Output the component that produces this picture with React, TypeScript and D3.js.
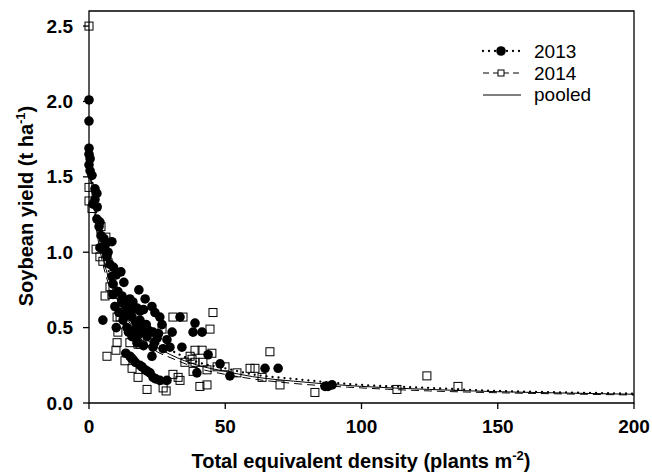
import React from 'react';
import * as d3 from 'd3';

// 2013 observations (total equivalent density, soybean yield)
const density2013 = [
  0, 0, 0, 0, 0.4, 0, 0.4, 1.1, 2.2, 2.9, 2.2, 1.5, 2.9, 3.7, 4.4, 5.5, 8.4, 5.9, 6.6, 7.7,
  11.7, 8.4, 12.8, 8.8, 10.6, 18.3, 8.8, 12.1, 15.0, 16.1, 9.5, 23.1, 17.6, 18.7, 24.2, 5.1,
  12.5, 15.8, 18.7, 26.8, 33.4, 13.9, 16.9, 19.8, 23.5, 30.5, 38.9, 38.2, 41.5, 15.8, 21.3,
  25.0, 28.6, 17.6, 23.5, 29.7, 34.1, 27.2, 43.7, 23.1, 15.0, 16.1, 48.1, 18.7, 20.6, 39.6,
  22.4, 23.5, 28.6, 51.7, 64.6, 69.4, 86.6, 87.7, 89.2, 13.2, 20.6, 26.0, 4.0,
  14.0, 15.5, 17.0, 13.0, 19.5, 21.0, 22.0, 14.5, 11.0, 12.0, 16.0, 20.0, 18.0, 24.0, 25.5,
  20.0, 10.0, 17.0, 19.5, 21.5, 13.5, 15.5, 24.5, 26.0, 3.0, 4.0, 6.0, 7.0, 9.0, 10.0,
];
const yield2013 = [
  2.01, 1.87, 1.69, 1.65, 1.62, 1.58, 1.54, 1.51, 1.42, 1.39, 1.35, 1.32, 1.22, 1.17, 1.11, 1.09, 1.07, 1.01, 0.97, 0.92,
  0.87, 0.84, 0.80, 0.79, 0.74, 0.75, 0.72, 0.71, 0.69, 0.67, 0.64, 0.64, 0.63, 0.61, 0.60, 0.55,
  0.55, 0.57, 0.55, 0.52, 0.57, 0.50, 0.49, 0.47, 0.47, 0.47, 0.53, 0.47, 0.47, 0.44, 0.44,
  0.43, 0.42, 0.40, 0.37, 0.37, 0.37, 0.36, 0.32, 0.31, 0.31, 0.29, 0.26, 0.25, 0.22, 0.20,
  0.20, 0.17, 0.15, 0.18, 0.23, 0.23, 0.11, 0.11, 0.12, 0.65, 0.69, 0.57, 1.03,
  0.62, 0.58, 0.54, 0.58, 0.50, 0.52, 0.48, 0.47, 0.60, 0.68, 0.62, 0.62, 0.45, 0.40, 0.46,
  0.38, 0.50, 0.27, 0.24, 0.21, 0.33, 0.30, 0.16, 0.15, 1.30, 1.20, 1.05, 1.00, 0.90, 0.85,
];

// 2014 observations
const density2014 = [
  0, 0, 0, 1.1, 4.4, 6.2, 2.6, 4.0, 5.1, 7.0, 7.7, 8.8, 5.9, 12.1, 10.3, 11.4, 10.6, 10.3, 9.9,
  6.6, 13.2, 15.8, 18.0, 21.3, 27.2, 28.3, 30.8, 34.5, 45.5, 44.4, 22.4, 18.7, 15.0, 26.8, 30.8,
  32.7, 38.2, 40.7, 43.3, 37.8, 38.9, 41.5, 37.1, 38.9, 43.3, 45.1, 47.0, 49.9, 35.2, 33.4, 41.8,
  54.3, 59.1, 60.9, 63.5, 66.4, 70.1, 82.9, 113.0, 124.0, 135.4, 12.5, 8.4, 18.0,
];
const yield2014 = [
  2.5, 1.43, 1.34, 1.29, 1.17, 1.10, 1.02, 0.97, 0.94, 0.93, 0.77, 0.77, 0.71, 0.67, 0.57, 0.57, 0.47, 0.40, 0.35,
  0.31, 0.28, 0.23, 0.17, 0.09, 0.10, 0.08, 0.57, 0.57, 0.60, 0.49, 0.40, 0.39, 0.40, 0.49, 0.19,
  0.17, 0.21, 0.11, 0.12, 0.29, 0.35, 0.35, 0.31, 0.27, 0.22, 0.33, 0.24, 0.24, 0.27, 0.15, 0.27,
  0.20, 0.23, 0.23, 0.17, 0.34, 0.12, 0.07, 0.09, 0.18, 0.11, 0.64, 0.72, 0.39,
];

// fitted curves
const fitDensity = [0, 1, 2, 3, 5, 7.5, 10, 15, 20, 25, 30, 40, 50, 60, 75, 100, 125, 150, 175, 200];
const fit2013 = [1.7, 1.5, 1.35, 1.22, 1.03, 0.86, 0.74, 0.57, 0.47, 0.4, 0.35, 0.27, 0.23, 0.19, 0.16, 0.12, 0.1, 0.08, 0.07, 0.062];
const fit2014 = [1.6, 1.4, 1.25, 1.12, 0.93, 0.77, 0.65, 0.5, 0.41, 0.34, 0.3, 0.23, 0.19, 0.16, 0.13, 0.1, 0.08, 0.068, 0.06, 0.053];
const fitPooled = [1.65, 1.45, 1.3, 1.17, 0.98, 0.81, 0.7, 0.53, 0.44, 0.37, 0.32, 0.25, 0.21, 0.175, 0.145, 0.11, 0.09, 0.075, 0.066, 0.058];

const xTicks = [0, 50, 100, 150, 200];
const yTicks = [0, 0.5, 1.0, 1.5, 2.0, 2.5];

const W = 652;
const H = 472;
const font = '"Liberation Sans", Arial, sans-serif';

export default function App() {
  const x = d3.scaleLinear().domain([0, 200]).range([89, 634]);
  const y = d3.scaleLinear().domain([0, 2.6]).range([403, 11]);
  const [x0, x1] = x.range();
  const [y0, y1] = y.range();

  const line = (ys: number[]) =>
    d3
      .line<number>()
      .x((_, i) => x(fitDensity[i]))
      .y(d => y(d))
      .curve(d3.curveMonotoneX)(ys) || '';

  return (
    <svg width={W} height={H} style={{ position: 'absolute', left: 0, top: 0 }} fontFamily={font}>
      <rect width={W} height={H} fill="white" />

      {/* frame */}
      <path d={`M${x0},${y0}V${y1}H${x1}V${y0}Z`} fill="none" stroke="black" strokeWidth={1.3} />

      {/* fitted curves */}
      <path d={line(fitPooled)} fill="none" stroke="black" strokeWidth={1} />
      <path d={line(fit2014)} fill="none" stroke="black" strokeWidth={1} strokeDasharray="8 5" />
      <path d={line(fit2013)} fill="none" stroke="black" strokeWidth={2.3} strokeDasharray="0 6" strokeLinecap="round" />

      {/* points */}
      {density2013.map((d, i) => (
        <circle key={'a' + i} cx={x(d)} cy={y(yield2013[i])} r={4.8} fill="black" />
      ))}
      {density2014.map((d, i) => (
        <rect
          key={'b' + i}
          x={x(d) - 4}
          y={y(yield2014[i]) - 4}
          width={8}
          height={8}
          fill="none"
          stroke="black"
          strokeWidth={1}
        />
      ))}

      {/* x axis */}
      {xTicks.map(t => (
        <g key={'x' + t}>
          <line x1={x(t)} x2={x(t)} y1={y0} y2={y0 + 6} stroke="black" strokeWidth={1.3} />
          <text x={x(t)} y={433} textAnchor="middle" fontSize={19} fontWeight="bold" fill="black">
            {t}
          </text>
        </g>
      ))}
      {/* y axis */}
      {yTicks.map(t => (
        <g key={'y' + t}>
          <line x1={x0 - 6} x2={x0} y1={y(t)} y2={y(t)} stroke="black" strokeWidth={1.3} />
          <text x={73} y={y(t) + 6.5} textAnchor="end" fontSize={19} fontWeight="bold" fill="black">
            {t.toFixed(1)}
          </text>
        </g>
      ))}

      <text x={361} y={468} textAnchor="middle" fontSize={20} fontWeight="bold" fill="black">
        Total equivalent density (plants m
        <tspan fontSize={13} dy={-8}>-2</tspan>
        <tspan dy={8}>)</tspan>
      </text>
      <text
        transform={`translate(33,206) rotate(-90)`}
        textAnchor="middle"
        fontSize={20}
        fontWeight="bold"
        fill="black"
      >
        Soybean yield (t ha
        <tspan fontSize={13} dy={-8}>-1</tspan>
        <tspan dy={8}>)</tspan>
      </text>

      {/* legend */}
      <g fontSize={19} fill="black">
        <line x1={483} x2={521} y1={51} y2={51} stroke="black" strokeWidth={2.3} strokeDasharray="0 6" strokeLinecap="round" />
        <circle cx={501} cy={51} r={4.8} fill="black" />
        <text x={534} y={58}>2013</text>
        <line x1={483} x2={521} y1={73} y2={73} stroke="black" strokeWidth={1} strokeDasharray="6 4" />
        <rect x={498} y={70} width={6} height={6} fill="white" stroke="black" strokeWidth={1} />
        <text x={534} y={80}>2014</text>
        <line x1={483} x2={521} y1={95} y2={95} stroke="black" strokeWidth={1} />
        <text x={534} y={101}>pooled</text>
      </g>
    </svg>
  );
}
